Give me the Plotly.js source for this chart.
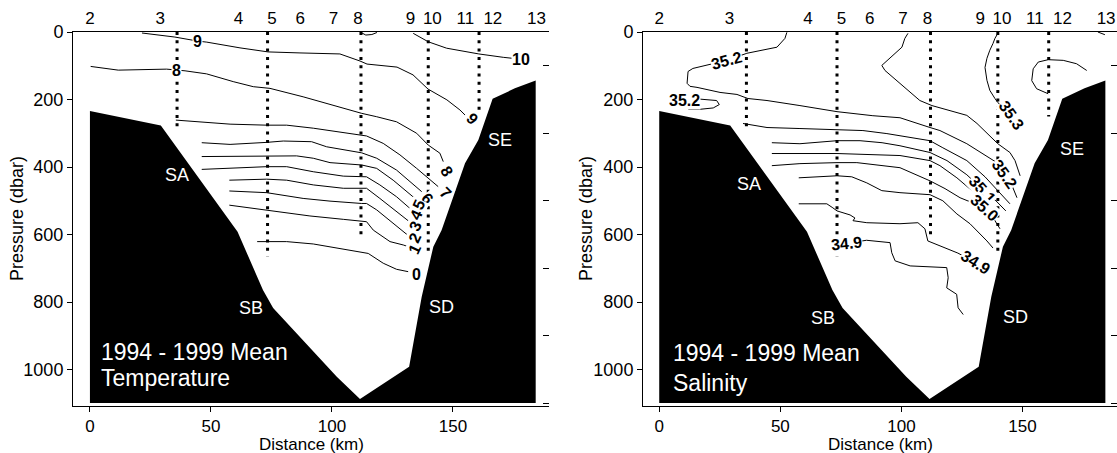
<!DOCTYPE html>
<html>
<head>
<meta charset="utf-8">
<script src="https://cdn.plot.ly/plotly-3.0.1.min.js"></script>
<style>html,body{margin:0;padding:0;background:#fff;}#chart{width:1117px;height:453px;}</style>
</head>
<body>
<div id="chart"></div>
<script>
// ---------------- data ----------------
const distanceTicks = [0, 50, 100, 150];
const pressureTicks = [0, 200, 400, 600, 800, 1000];
const rightTicks = [100, 300, 500, 700, 900, 1100];
const stationKm = [0, 29, 61.4, 75.2, 86.9, 100.6, 110.8, 132.5, 141.5, 155.1, 166.5, 184.5];
const stationNames = ['2', '3', '4', '5', '6', '7', '8', '9', '10', '11', '12', '13'];
const mooringKm = [36, 73.4, 112, 139.8, 160.8];
const mooringBottom = [287, 664, 610, 661, 250];
const bathyKm = [0, 29.3, 61, 65.4, 71.5, 75.7, 102, 111.6, 131.9, 137.1, 141.9, 145.3, 155, 160.5, 166.4, 175.6, 184.2, 184.2, 0];
const bathyDbar = [234, 277, 592, 666, 764, 818, 1021, 1087, 992, 784, 636, 587, 389, 320, 198, 167, 144, 1099, 1099];

// temperature contours [km, dbar]
const T10 = [[133.6,4],[139.8,29],[147.4,48],[160.7,65],[170.8,75],[176,79]];
const T9 = [[21.5,3],[35.1,15],[44.6,27],[48.3,30],[62,47],[73.6,59],[86.8,62],[103.3,65],[111.6,86],[114.5,95],[126.9,104],[133.5,127],[139.7,169],[147.5,201],[152.9,231],[155,246]];
const Tcurl = [[112,1.5],[114,9],[116.5,7.5],[118.6,1.5]];
const T8 = [[0.3,102],[11.7,113],[31.7,110],[35.8,113],[39.3,115],[48.2,124],[59.2,147],[67.5,162],[74.4,167],[88.1,192],[101.9,221],[112.3,241],[118.5,251],[126.7,266],[135,300],[139.8,335],[144.6,359],[146,384]];
const T7 = [[35.5,261],[57.9,273],[73,276],[81.3,276],[92.3,285],[104.7,298],[114.3,308],[121.2,330],[128.1,364],[135,404],[140.5,439],[143.9,458]];
const T6 = [[46.2,328],[57.9,333],[73,327],[79.9,323],[91.6,325],[97.8,340],[112.3,358],[118.5,374],[126.7,409],[132.9,448],[137.1,473]];
const T5 = [[46.2,369],[73,367],[85.4,367],[92.3,374],[99.2,387],[112.3,394],[118.5,404],[125.3,439],[130.9,473],[134.3,493]];
const T4 = [[46.2,407],[73,399],[81.3,399],[92.3,414],[104.7,427],[114.3,429],[119.8,453],[126.7,488],[131.5,518],[133.6,532]];
const T3 = [[57.6,439],[73,436],[81.3,439],[92.3,453],[104.7,463],[114.3,463],[119.8,493],[126.7,532],[130.9,557],[132.9,567]];
const T2 = [[57.6,471],[73,476],[88.1,493],[99.2,501],[112.3,508],[114.3,508],[118.5,527],[125.3,567],[130.2,596],[132.2,607]];
const T1 = [[57.6,513],[73,527],[90.9,545],[104.7,555],[114.3,562],[117.1,587],[124,621],[129.5,631],[131.5,636]];
const T0 = [[69.1,621],[81.3,621],[92.3,628],[104.7,644],[115,656],[121.2,685],[126.7,703],[131.5,710]];
// temperature labels [km, dbar, text, angle]
const tempLabels = [[178.3,81,'10',0],[44.6,27,'9',0],[157.9,256,'9',45],[35.8,113,'8',0],[147.4,414,'8',60],[147.1,478,'7',45],[139.4,493,'6',50],[135.9,510,'5',-65],[135,542,'4',-65],[134.7,574,'3',-65],[134.3,608,'2',-65],[134.3,642,'1',-65],[134.9,718,'0',0]];

// salinity contours [km, dbar]
const S352 = [[52.7,1],[51.9,19],[48.6,45],[41.6,54],[36.2,63],[27.9,84],[19.7,99],[13.9,108],[11.9,117],[11.5,152],[12.7,161],[15.6,164],[25.1,179],[32.1,185],[36.6,197],[44.5,203],[58.1,218],[73.4,236],[88.2,248],[99.4,254],[111.8,283],[115.9,292],[127,331],[136.5,372],[139.4,387],[142.7,421],[146,461],[147.7,491]];
const S352loop = [[12,199],[15.4,198],[23.7,203],[24.8,215],[22.3,225],[16.8,229],[12,229]];
const Swave = [[102.7,4],[101.4,19],[100.2,45],[96.5,69],[91.9,99],[93.2,114],[98.1,144],[103.5,179],[107.6,203],[112.6,218],[120,232],[127,247],[131.2,271],[135.3,301],[139.8,331],[144.8,357],[146.9,381],[149,426]];
const S353 = [[139.8,4],[138.6,19],[137.8,34],[136.5,54],[135.3,78],[134.5,105],[135.3,143],[136.5,173],[138.6,197],[139.8,209],[142.5,228]];
const Sloop12 = [[176.5,114],[172.3,94],[166.8,84],[160.6,82],[156.5,89],[154.4,109],[153.8,144],[155.8,168],[160.6,183]];
const Stiny = [[181.1,0],[184,8]];
const S3515 = [[34.6,271],[44.5,283],[58.1,286],[73.4,289],[84.1,292],[94,301],[111.8,322],[117.1,343],[127,381],[134.5,429],[140.7,476],[144.8,509]];
const S351 = [[46.5,328],[58.1,331],[73.4,322],[82.9,322],[92,328],[99.4,337],[111.8,357],[118.8,381],[127,423],[133.4,466],[139,500],[143.1,530]];
const S3505 = [[46.5,360],[73.4,360],[99.4,366],[111.8,381],[115.9,396],[122.9,432],[128.3,465],[134.5,495],[139.8,530]];
const S350 = [[46.5,396],[58.1,390],[73.4,387],[81.6,387],[99.4,402],[111.8,441],[118,464],[124.2,491],[134.1,520],[138,552],[140.7,583]];
const S3495 = [[57.6,432],[73.4,426],[79.5,429],[85.7,447],[91.9,470],[99.4,476],[111.8,482],[117.1,500],[122.9,539],[128.3,568],[135.3,619],[137.8,640]];
const S349a = [[57.6,509],[69.2,509],[71.7,521],[73.4,530],[78.8,542],[80.8,551],[80,559],[85.7,565],[99.4,568],[106.8,565],[109.7,583],[110.9,619],[123.3,655],[130.7,683],[135.7,690]];
const S349b = [[77.4,626],[85.6,617],[95.3,624],[96,654],[97.4,678],[103.6,693],[118.7,698],[119.3,728],[118.7,758],[122.8,777],[123.4,817],[125.5,837]];
const salLabels = [[27.9,84,'35.2',-15],[10.6,203,'35.2',0],[145.5,247,'35.3',55],[142.7,421,'35.2',55],[133.4,466,'35.1',48],[134.1,520,'35.0',42],[130.7,683,'34.9',32],[77.4,626,'34.9',-6]];

// region labels [km, dbar, text]
const tempRegions = [[36,424,'SA'],[66.4,819,'SB'],[114.3,816,'SC'],[145.3,816,'SD'],[169.4,320,'SE']];
const salRegions = [[37.1,451,'SA'],[67.7,846,'SB'],[115.9,845,'SC'],[146.9,845,'SD'],[170.3,346,'SE']];
const xTitle = 'Distance (km)';
const yTitle = 'Pressure (dbar)';

// ---------------- build ----------------
const FF = '"Liberation Sans", Arial, sans-serif';
const W = 1117, H = 453;
const traces = [];
const annotations = [];

function lineTrace(pts, xa, ya) {
  return {type:'scatter', mode:'lines', x: pts.map(p => p[0]), y: pts.map(p => p[1]),
    xaxis: xa, yaxis: ya, line: {color: '#000', width: 1}, hoverinfo: 'skip', showlegend: false};
}

function panel(xa, ya, xo, yo, contours, labels, regions, titleLines, titleX, titleY) {
  traces.push({type:'scatter', mode:'lines', x: bathyKm, y: bathyDbar, xaxis: xa, yaxis: ya,
    fill: 'toself', fillcolor: '#000', line: {width: 0, color: '#000'}, hoverinfo: 'skip', showlegend: false});
  contours.forEach(c => traces.push(lineTrace(c, xa, ya)));
  mooringKm.forEach((k, i) => traces.push({type:'scatter', mode:'lines', x: [k, k], y: [0, mooringBottom[i]],
    xaxis: xo, yaxis: yo, line: {color: '#000', width: 3, dash: '3px,5.3px'}, hoverinfo: 'skip', showlegend: false}));
  labels.forEach(l => annotations.push({x: l[0], y: l[1], xref: xa, yref: ya, text: '<b>' + l[2] + '</b>',
    showarrow: false, textangle: l[3], bgcolor: '#fff', borderpad: 0,
    font: {family: FF, size: 16, color: '#000'}}));
  regions.forEach(r => annotations.push({x: r[0], y: r[1], xref: xa, yref: ya, text: r[2], showarrow: false,
    font: {family: FF, size: 18, color: '#fff'}}));
  titleLines.forEach((t, i) => annotations.push({x: titleX, y: titleY[i], xref: xa, yref: ya, text: t,
    showarrow: false, xanchor: 'left', font: {family: FF, size: 23, color: '#fff'}}));
}

panel('x', 'y', 'x3', 'y3', [T10, T9, Tcurl, T8, T7, T6, T5, T4, T3, T2, T1, T0], tempLabels, tempRegions,
  ['1994 - 1999 Mean', 'Temperature'], 3.6, [947, 1026]);
panel('x2', 'y2', 'x4', 'y4', [S352, S352loop, Swave, S353, Sloop12, Stiny, S3515, S351, S3505, S350, S3495, S349a, S349b], salLabels, salRegions,
  ['1994 - 1999 Mean', 'Salinity'], 5.0, [952, 1041]);

// axis titles (placed in paper space)
[311, 880].forEach(cx => annotations.push({x: cx / W, y: (H - 434) / H, xref: 'paper', yref: 'paper',
  xanchor: 'center', yanchor: 'top', borderpad: 0, text: xTitle, showarrow: false,
  font: {family: FF, size: 17, color: '#000'}}));
[17, 586].forEach(cx => annotations.push({x: cx / W, y: (H - 219) / H, xref: 'paper', yref: 'paper',
  xanchor: 'center', yanchor: 'middle', text: yTitle, textangle: -90, showarrow: false,
  font: {family: FF, size: 18, color: '#000'}}));

const XR1 = [-7, 189.7], XR2 = [-6.7, 189], YR = [1108, 0];
const XD1 = [73 / W, 549 / W], XD2 = [643 / W, 1], YD = [47 / H, 421 / H];
const tickFont = {family: FF, size: 18, color: '#000'};

function bottomAxis(dom, rng, anchor) {
  return {domain: dom, range: rng, anchor: anchor, tickmode: 'array', tickvals: distanceTicks,
    ticks: 'outside', ticklen: 5, tickwidth: 1, tickcolor: '#000', showline: true, linecolor: '#000', linewidth: 1,
    showgrid: false, zeroline: false, tickfont: {family: FF, size: 17, color: '#000'}};
}
function leftAxis(rng, anchor) {
  return {domain: YD, range: rng, anchor: anchor, tickmode: 'array', tickvals: pressureTicks,
    ticks: 'outside', ticklen: 5, tickwidth: 1, tickcolor: '#000', showline: true, linecolor: '#000', linewidth: 1,
    showgrid: false, zeroline: false, tickfont: tickFont};
}
function topAxis(rng, over, anchor) {
  return {overlaying: over, side: 'top', anchor: anchor, range: rng, tickmode: 'array', tickvals: stationKm,
    ticktext: stationNames, ticks: '', showline: true, linecolor: '#000', linewidth: 1,
    showgrid: false, zeroline: false, tickfont: {family: FF, size: 17, color: '#000'}};
}
function rightAxis(rng, over, anchor) {
  return {overlaying: over, side: 'right', anchor: anchor, range: rng, tickmode: 'array', tickvals: rightTicks,
    ticks: 'inside', ticklen: 6, tickwidth: 1, tickcolor: '#000', showticklabels: false, showline: false,
    showgrid: false, zeroline: false};
}

const layout = {
  width: W, height: H, margin: {l: 0, r: 0, t: 0, b: 0},
  paper_bgcolor: '#fff', plot_bgcolor: '#fff', showlegend: false,
  font: {family: FF, color: '#000'},
  xaxis: bottomAxis(XD1, XR1, 'y'),
  yaxis: leftAxis(YR, 'x'),
  xaxis2: bottomAxis(XD2, XR2, 'y2'),
  yaxis2: leftAxis(YR, 'x2'),
  xaxis3: topAxis(XR1, 'x', 'y'),
  yaxis3: rightAxis(YR, 'y', 'x'),
  xaxis4: topAxis(XR2, 'x2', 'y2'),
  yaxis4: rightAxis(YR, 'y2', 'x2'),
  annotations: annotations
};

Plotly.newPlot('chart', traces, layout, {staticPlot: true, displayModeBar: false});
</script>
</body>
</html>
